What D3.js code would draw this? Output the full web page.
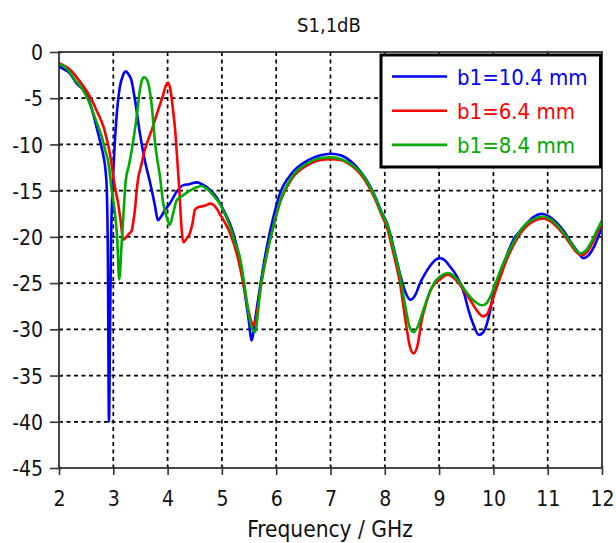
<!DOCTYPE html>
<html>
<head>
<meta charset="utf-8">
<script src="https://cdn.jsdelivr.net/npm/d3@7"></script>
<style>
	body { margin: 0; background: #fff; }
	text { font-family: "DejaVu Sans Condensed", "DejaVu Sans", sans-serif; fill: #111; }
</style>
</head>
<body>
<div id="chart"></div>
<script>
'use strict';

// tick labels
const xTicks = [2, 3, 4, 5, 6, 7, 8, 9, 10, 11, 12];
const yTicks = [0, -5, -10, -15, -20, -25, -30, -35, -40, -45];

const seriesNames = ["b1=10.4 mm", "b1=6.4 mm", "b1=8.4 mm"];
const seriesColors = ["#0000ff", "#ff0000", "#00aa00"];

// b1 = 10.4 mm
const freqB104 = [2.0, 2.1, 2.2, 2.3, 2.36, 2.42, 2.48, 2.55, 2.6, 2.66, 2.72, 2.78, 2.82, 2.86, 2.88, 2.9, 2.92, 2.94, 2.96, 2.98, 3.0, 3.02, 3.06, 3.12, 3.18, 3.23, 3.28, 3.33, 3.4, 3.49, 3.58, 3.68, 3.77, 3.82, 3.88, 3.95, 4.04, 4.17, 4.29, 4.4, 4.54, 4.63, 4.72, 4.9, 5.03, 5.21, 5.33, 5.42, 5.49, 5.55, 5.61, 5.7, 5.83, 5.95, 6.07, 6.29, 6.59, 6.8, 7.01, 7.2, 7.39, 7.55, 7.7, 7.82, 7.94, 8.04, 8.16, 8.28, 8.38, 8.47, 8.56, 8.65, 8.75, 8.84, 8.93, 9.01, 9.1, 9.2, 9.3, 9.39, 9.47, 9.54, 9.64, 9.73, 9.8, 9.88, 9.94, 10.0, 10.1, 10.19, 10.28, 10.37, 10.5, 10.62, 10.75, 10.89, 11.03, 11.17, 11.3, 11.42, 11.54, 11.66, 11.75, 11.85, 11.93, 12.0];
const dbB104 = [-1.6, -1.9, -2.3, -3.2, -3.6, -3.9, -4.3, -5.2, -6.1, -7.4, -8.8, -10.2, -11.3, -13.0, -14.9, -22.0, -40.0, -30.0, -20.0, -15.5, -13.0, -10.6, -7.0, -3.8, -2.5, -2.1, -2.4, -3.0, -5.2, -8.8, -11.7, -14.2, -16.7, -18.2, -17.8, -17.1, -16.4, -15.1, -14.4, -14.3, -14.1, -14.3, -14.6, -15.7, -17.1, -19.6, -22.5, -26.0, -28.8, -31.2, -29.0, -25.5, -21.0, -17.8, -15.3, -13.1, -11.7, -11.2, -11.0, -11.2, -11.9, -12.9, -14.2, -15.6, -17.3, -18.5, -21.1, -24.0, -26.0, -26.8, -26.3, -25.0, -23.9, -23.1, -22.5, -22.3, -22.5, -23.2, -24.0, -25.0, -26.3, -27.9, -29.6, -30.6, -30.4, -29.4, -28.0, -26.1, -24.3, -22.9, -21.5, -20.3, -19.3, -18.5, -17.8, -17.5, -17.8, -18.5, -19.4, -20.5, -21.5, -22.3, -22.0, -21.1, -20.0, -18.9];

// b1 = 6.4 mm
const freqB64 = [2.0, 2.1, 2.2, 2.28, 2.36, 2.45, 2.54, 2.62, 2.69, 2.76, 2.82, 2.87, 2.91, 2.96, 3.0, 3.05, 3.09, 3.14, 3.18, 3.24, 3.3, 3.34, 3.37, 3.4, 3.43, 3.46, 3.5, 3.58, 3.71, 3.83, 3.92, 3.97, 4.01, 4.05, 4.1, 4.14, 4.17, 4.2, 4.22, 4.24, 4.26, 4.29, 4.35, 4.41, 4.46, 4.5, 4.56, 4.63, 4.7, 4.78, 4.84, 4.9, 4.96, 5.03, 5.15, 5.3, 5.4, 5.49, 5.55, 5.59, 5.64, 5.7, 5.83, 5.95, 6.07, 6.29, 6.59, 6.8, 7.01, 7.2, 7.39, 7.55, 7.7, 7.82, 7.94, 8.04, 8.16, 8.28, 8.38, 8.46, 8.53, 8.6, 8.68, 8.76, 8.84, 8.93, 9.02, 9.1, 9.17, 9.28, 9.39, 9.48, 9.57, 9.7, 9.81, 9.88, 9.94, 10.03, 10.13, 10.25, 10.37, 10.5, 10.62, 10.77, 10.92, 11.05, 11.17, 11.3, 11.42, 11.54, 11.63, 11.73, 11.83, 11.92, 12.0];
const dbB64 = [-1.2, -1.5, -1.9, -2.4, -3.0, -3.7, -4.5, -5.4, -6.3, -7.2, -8.1, -9.2, -10.2, -11.8, -13.5, -15.2, -16.4, -18.5, -20.3, -20.0, -19.6, -19.3, -18.3, -17.0, -15.0, -13.6, -12.6, -10.6, -8.4, -6.2, -4.6, -3.6, -3.3, -4.0, -6.3, -8.5, -11.0, -13.5, -15.3, -17.5, -19.3, -20.6, -20.2, -19.6, -18.5, -17.1, -16.8, -16.7, -16.6, -16.4, -16.5, -16.9, -17.5, -18.2, -19.6, -22.4, -25.2, -28.0, -29.3, -29.6, -28.4, -26.0, -21.8, -18.8, -16.3, -13.7, -12.2, -11.7, -11.6, -11.7, -12.3, -13.2, -14.5, -15.9, -17.6, -19.0, -21.8, -25.0, -29.0, -31.8, -32.6, -31.8, -29.0, -27.2, -25.8, -25.0, -24.6, -24.2, -24.1, -24.5, -25.2, -26.0, -26.8, -28.0, -28.6, -28.4, -27.6, -26.0, -24.3, -22.4, -20.9, -19.6, -18.8, -18.2, -18.0, -18.3, -18.9, -19.8, -20.8, -21.7, -22.0, -21.6, -20.6, -19.5, -18.4];

// b1 = 8.4 mm
const freqB84 = [2.0, 2.1, 2.2, 2.29, 2.38, 2.48, 2.56, 2.63, 2.71, 2.79, 2.85, 2.91, 2.97, 3.03, 3.07, 3.11, 3.15, 3.19, 3.23, 3.29, 3.34, 3.43, 3.49, 3.53, 3.57, 3.62, 3.66, 3.71, 3.77, 3.82, 3.86, 3.92, 3.98, 4.04, 4.1, 4.17, 4.29, 4.38, 4.47, 4.55, 4.63, 4.7, 4.78, 4.87, 4.96, 5.06, 5.15, 5.24, 5.33, 5.42, 5.49, 5.55, 5.61, 5.66, 5.7, 5.83, 5.95, 6.07, 6.29, 6.59, 6.8, 7.01, 7.2, 7.39, 7.55, 7.7, 7.82, 7.94, 8.04, 8.16, 8.28, 8.38, 8.46, 8.53, 8.6, 8.71, 8.84, 8.93, 9.02, 9.1, 9.17, 9.28, 9.39, 9.48, 9.57, 9.68, 9.79, 9.87, 9.94, 10.03, 10.13, 10.25, 10.37, 10.5, 10.62, 10.77, 10.92, 11.05, 11.17, 11.3, 11.42, 11.52, 11.6, 11.7, 11.8, 11.9, 12.0];
const dbB84 = [-1.3, -1.6, -2.2, -3.0, -3.6, -4.5, -5.5, -6.6, -7.9, -9.2, -10.6, -12.0, -14.9, -17.4, -20.0, -24.6, -21.1, -17.2, -13.9, -12.2, -10.6, -7.0, -4.1, -3.0, -2.7, -3.0, -3.8, -5.9, -9.9, -12.0, -13.5, -16.4, -17.8, -18.7, -17.5, -16.0, -15.5, -15.1, -14.8, -14.6, -14.5, -14.7, -15.1, -15.7, -16.4, -17.6, -18.9, -20.6, -22.2, -25.4, -28.2, -29.8, -30.3, -28.4, -26.0, -21.8, -18.8, -16.2, -13.5, -12.0, -11.5, -11.4, -11.6, -12.2, -13.0, -14.3, -15.7, -17.4, -18.6, -21.3, -24.2, -27.6, -29.8, -30.3, -29.8, -27.9, -25.8, -24.8, -24.3, -24.0, -23.9, -24.3, -25.0, -25.8, -26.5, -27.1, -27.4, -27.2, -26.5, -25.2, -23.6, -22.0, -20.6, -19.3, -18.5, -18.0, -17.8, -18.1, -18.7, -19.6, -20.6, -21.4, -21.8, -21.5, -20.6, -19.4, -18.2];

const width = 616;
const height = 543;
const plot = { left: 59, right: 602, top: 52, bottom: 468 };

function zipSeries(freqs, values){
	return freqs.map(function(f, i){ return { f: f, v: values[i] }; });
}

// plain hyphen minus, like the original plot
function tickLabel(d){
	return String(d);
}

const allSeries = [
	zipSeries(freqB104, dbB104),
	zipSeries(freqB64, dbB64),
	zipSeries(freqB84, dbB84)
];

const x = d3.scaleLinear().domain([2, 12]).range([plot.left, plot.right]);
const y = d3.scaleLinear().domain([0, -45]).range([plot.top, plot.bottom]);

const svg = d3.select("#chart").append("svg")
	.attr("width", width)
	.attr("height", height);

svg.append("rect")
	.attr("width", width)
	.attr("height", height)
	.attr("fill", "#fff");

svg.append("clipPath")
	.attr("id", "plot-clip")
	.append("rect")
	.attr("x", plot.left)
	.attr("y", plot.top - 2)
	.attr("width", plot.right - plot.left)
	.attr("height", plot.bottom - plot.top + 2);

// dashed grid
let grid = svg.append("g")
	.attr("stroke", "#000")
	.attr("stroke-width", 1.7)
	.attr("stroke-dasharray", "4,3.5");

grid.selectAll(".vgrid")
	.data(xTicks.slice(1, -1))
	.enter()
	.append("line")
	.attr("x1", function(d){ return x(d); })
	.attr("x2", function(d){ return x(d); })
	.attr("y1", plot.top)
	.attr("y2", plot.bottom);

grid.selectAll(".hgrid")
	.data(yTicks.slice(1, -1))
	.enter()
	.append("line")
	.attr("x1", plot.left)
	.attr("x2", plot.right)
	.attr("y1", function(d){ return y(d); })
	.attr("y2", function(d){ return y(d); });

// curves
let line = d3.line()
	.x(function(d){ return x(d.f); })
	.y(function(d){ return y(d.v); })
	.curve(d3.curveMonotoneX);

svg.append("g")
	.attr("clip-path", "url(#plot-clip)")
	.selectAll("path")
	.data(allSeries)
	.enter()
	.append("path")
	.attr("d", line)
	.attr("fill", "none")
	.attr("stroke", function(d, i){ return seriesColors[i]; })
	.attr("stroke-width", 2.6)
	.attr("stroke-linejoin", "round");

// axes
let xAxis = svg.append("g")
	.attr("transform", "translate(0," + plot.bottom + ")")
	.call(d3.axisBottom(x).tickValues(xTicks).tickFormat(tickLabel).tickSize(7));

let yAxis = svg.append("g")
	.attr("transform", "translate(" + plot.left + ",0)")
	.call(d3.axisLeft(y).tickValues(yTicks).tickFormat(tickLabel).tickSize(9));

[xAxis, yAxis].forEach(function(a){
	a.select(".domain").remove();
	a.selectAll(".tick line").attr("stroke", "#333").attr("stroke-width", 1.6);
	a.selectAll(".tick text")
		.attr("fill", "#111")
		.style("font-size", "21px")
		.style("font-family", "'DejaVu Sans Condensed', 'DejaVu Sans', sans-serif");
});

xAxis.selectAll(".tick line").attr("y1", -2);
xAxis.selectAll(".tick text").attr("y", 38).attr("dy", 0);

yAxis.selectAll(".tick line").attr("x1", 3);
yAxis.selectAll(".tick text").attr("x", -16).attr("dy", "0.36em");

// frame
svg.append("rect")
	.attr("x", plot.left)
	.attr("y", plot.top)
	.attr("width", plot.right - plot.left)
	.attr("height", plot.bottom - plot.top)
	.attr("fill", "none")
	.attr("stroke", "#333")
	.attr("stroke-width", 1.8);

// title and axis label
svg.append("text")
	.attr("x", 329)
	.attr("y", 32)
	.attr("text-anchor", "middle")
	.style("font-size", "20px")
	.text("S1,1dB");

svg.append("text")
	.attr("x", 330)
	.attr("y", 537)
	.attr("text-anchor", "middle")
	.style("font-size", "22.5px")
	.text("Frequency / GHz");

// legend
let legend = svg.append("g");

legend.append("rect")
	.attr("x", 381)
	.attr("y", 55)
	.attr("width", 219.5)
	.attr("height", 112)
	.attr("fill", "#fff")
	.attr("stroke", "#000")
	.attr("stroke-width", 3);

let items = legend.selectAll(".item")
	.data(seriesNames)
	.enter()
	.append("g")
	.attr("transform", function(d, i){ return "translate(0," + (85 + i * 34.2) + ")"; });

items.append("line")
	.attr("x1", 392)
	.attr("x2", 447)
	.attr("y1", -8.5)
	.attr("y2", -8.5)
	.attr("stroke", function(d, i){ return seriesColors[i]; })
	.attr("stroke-width", 2.6);

items.append("text")
	.attr("x", 457)
	.attr("y", 0)
	.style("font-size", "22px")
	.style("fill", function(d, i){ return seriesColors[i]; })
	.text(function(d){ return d; });
</script>
</body>
</html>
